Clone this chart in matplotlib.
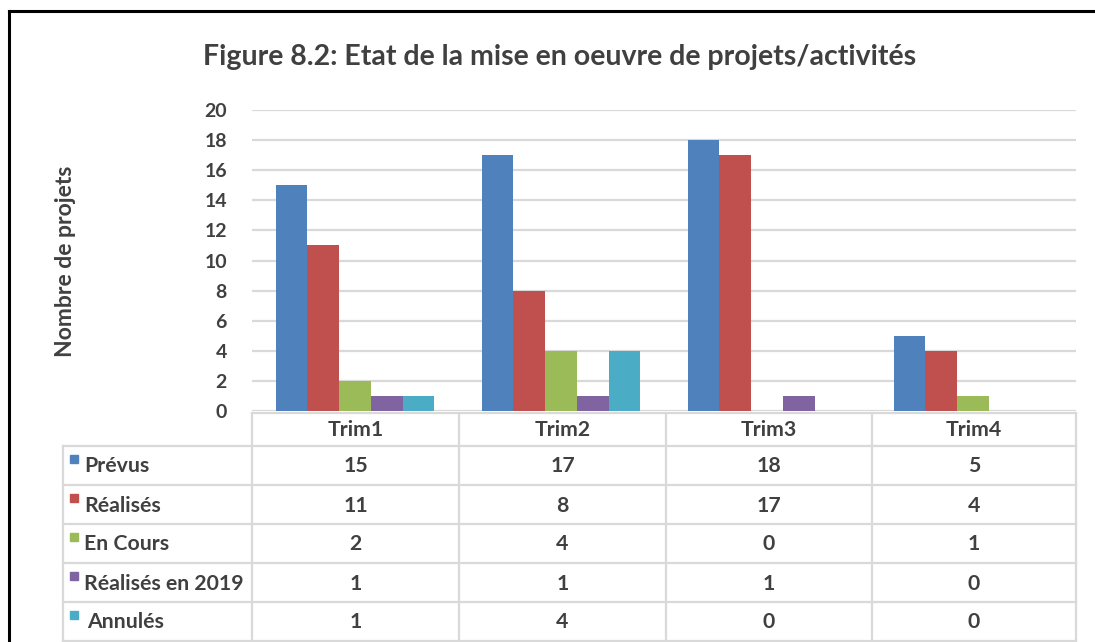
import numpy as np
import matplotlib
matplotlib.use("Agg")
import matplotlib.pyplot as plt
from matplotlib.lines import Line2D
from matplotlib.patches import Rectangle

# DATA
categories = ["Trim1", "Trim2", "Trim3", "Trim4"]
series_names = ["Prévus", "Réalisés", "En Cours", "Réalisés en 2019", "Annulés"]
prevus = [15, 17, 18, 5]
realises = [11, 8, 17, 4]
en_cours = [2, 4, 0, 1]
realises_2019 = [1, 1, 1, 0]
annules = [1, 4, 0, 0]
colors = ["#4F81BD", "#C0504D", "#9BBB59", "#8064A2", "#4BACC6"]
y_ticks = [0, 2, 4, 6, 8, 10, 12, 14, 16, 18, 20]

series = [prevus, realises, en_cours, realises_2019, annules]

W, H = 1095, 642
txt = "#404040"
grid_c = "#D9D9D9"
plt.rcParams['font.family'] = ['Lato', 'DejaVu Sans']
plt.rcParams['font.weight'] = 'bold'

fig = plt.figure(figsize=(W / 100, H / 100), dpi=100)

def px(x, y):
    return x / W, 1 - y / H

# axes in pixels
ax_l, ax_r, ax_t, ax_b = 252, 1076, 110, 411
ax = fig.add_axes([ax_l / W, 1 - ax_b / H, (ax_r - ax_l) / W, (ax_b - ax_t) / H])

x = np.arange(len(categories))
bw = 0.154
for i, (vals, c) in enumerate(zip(series, colors)):
    ax.bar(x + (i - 2) * bw, vals, bw, color=c, zorder=3)

ax.set_xlim(-0.5, 3.5)
ax.set_ylim(0, 20)
ax.set_yticks(y_ticks)
ax.set_yticklabels([str(t) for t in y_ticks], fontsize=14, color=txt, fontweight='bold')
ax.tick_params(axis='y', length=0, pad=18)
ax.set_xticks([])
ax.grid(axis='y', color=grid_c, linewidth=1.6, zorder=0)
for s in ax.spines.values():
    s.set_visible(False)

# title and y label
fig.text(*px(560, 57), "Figure 8.2: Etat de la mise en oeuvre de projets/activités",
         ha='center', va='center', fontsize=20.5, color=txt, fontweight='bold')
fig.text(*px(66, 261), "Nombre de projets", rotation=90, ha='center', va='center',
         fontsize=16.5, color=txt, fontweight='bold')

# outer frame (top and left)
fig.add_artist(Line2D([9 / W, 1], [1 - 11 / H, 1 - 11 / H], color='black', lw=2.2,
                      transform=fig.transFigure))
fig.add_artist(Line2D([9 / W, 9 / W], [1 - 11 / H, 0], color='black', lw=2.2,
                      transform=fig.transFigure))

# data table
col_edges = [252, 459, 666, 872, 1076]
tbl_left = 63
head_top, head_bot = 413, 446
row_h = 39
row_edges = [head_bot + k * row_h for k in range(len(series) + 1)]

def hline(y, x0, x1):
    fig.add_artist(Line2D([x0 / W, x1 / W], [1 - y / H, 1 - y / H], color=grid_c,
                          lw=1.6, transform=fig.transFigure))

def vline(x0, y0, y1):
    fig.add_artist(Line2D([x0 / W, x0 / W], [1 - y0 / H, 1 - y1 / H], color=grid_c,
                          lw=1.6, transform=fig.transFigure))

hline(head_top, col_edges[0], col_edges[-1])
for y in row_edges:
    hline(y, tbl_left, col_edges[-1])
for cx in col_edges:
    vline(cx, head_top, row_edges[-1])
vline(tbl_left, head_bot, row_edges[-1])

fs = 15.3
for j, cat in enumerate(categories):
    cx = (col_edges[j] + col_edges[j + 1]) / 2
    fig.text(*px(cx, (head_top + head_bot) / 2 + 1), cat, ha='center', va='center',
             fontsize=fs, color=txt, fontweight='bold')

for i, (name, vals, c) in enumerate(zip(series_names, series, colors)):
    cy = (row_edges[i] + row_edges[i + 1]) / 2 + 1
    fig.add_artist(Rectangle(px(70, cy - 4), 8 / W, 8 / H, color=c,
                             transform=fig.transFigure))
    fig.text(*px(84 if i < 4 else 87, cy), name, ha='left', va='center',
             fontsize=fs, color=txt, fontweight='bold')
    for j, v in enumerate(vals):
        cx = (col_edges[j] + col_edges[j + 1]) / 2
        fig.text(*px(cx, cy), str(v), ha='center', va='center',
                 fontsize=fs, color=txt, fontweight='bold')

fig.savefig("out.png", dpi=100)
